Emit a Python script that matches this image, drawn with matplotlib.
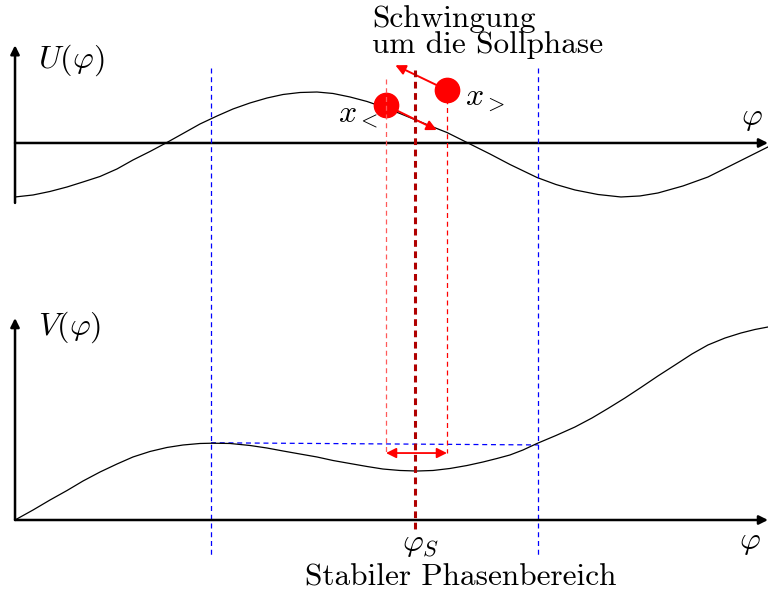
import matplotlib
matplotlib.use("Agg")
import matplotlib.pyplot as plt

plt.rcParams["font.family"] = "serif"
plt.rcParams["font.serif"] = ["cmr10", "DejaVu Serif"]
plt.rcParams["mathtext.fontset"] = "cm"
plt.rcParams["axes.unicode_minus"] = False

# --- curve samples (phase in rad, values in arbitrary units) ---
PHI_U = [0.000, 0.187, 0.363, 0.540, 0.706, 0.883, 1.059, 1.225, 1.402, 1.568,
         1.745, 1.921, 2.098, 2.264, 2.440, 2.617, 2.783, 2.960, 3.136, 3.302,
         3.479, 3.655, 3.821, 3.998, 4.174, 4.341, 4.486, 4.704, 4.933, 5.140,
         5.421, 5.618, 5.815, 6.054, 6.293, 6.490, 6.677, 6.937, 7.196, 7.425,
         7.632, 7.819]
U_VALS = [-1.000, -0.963, -0.898, -0.815, -0.722, -0.620, -0.481, -0.315, -0.157, 0.000,
          0.176, 0.352, 0.500, 0.630, 0.741, 0.833, 0.898, 0.935, 0.944, 0.917,
          0.852, 0.769, 0.667, 0.546, 0.417, 0.296, 0.194, 0.000, -0.204, -0.398,
          -0.639, -0.769, -0.870, -0.954, -1.000, -0.981, -0.926, -0.796, -0.630, -0.426,
          -0.241, -0.074]

PHI_V = [0.000, 0.187, 0.363, 0.540, 0.706, 0.883, 1.059, 1.225, 1.402, 1.578,
         1.745, 1.921, 2.046, 2.233, 2.440, 2.617, 2.783, 2.960, 3.136, 3.302,
         3.479, 3.655, 3.821, 3.998, 4.174, 4.341, 4.517, 4.694, 4.860, 5.005,
         5.140, 5.275, 5.421, 5.618, 5.815, 5.992, 6.158, 6.334, 6.500, 6.677,
         6.854, 7.030, 7.196, 7.373, 7.539, 7.684, 7.819]
V_VALS = [0.000, 0.185, 0.370, 0.546, 0.722, 0.889, 1.037, 1.167, 1.269, 1.343,
          1.389, 1.417, 1.422, 1.417, 1.380, 1.333, 1.278, 1.222, 1.167, 1.102,
          1.046, 0.991, 0.944, 0.917, 0.907, 0.917, 0.954, 1.009, 1.074, 1.139,
          1.204, 1.296, 1.417, 1.565, 1.722, 1.889, 2.065, 2.259, 2.454, 2.667,
          2.870, 3.074, 3.241, 3.370, 3.463, 3.528, 3.574]

PHI_S = 4.154                 # Sollphase
PHI_STABLE = [2.035, 5.431]   # Grenzen des stabilen Bereichs
V_STABLE = [1.43, 1.39]
PHI_X_LO, PHI_X_HI = 3.853, 4.486   # Schwingungsumkehrpunkte x_<, x_>
U_DOT_LO, U_DOT_HI = 0.70, 0.98

BLUE = "#0000ff"
RED = "#ff0000"
LIGHT_RED = "#ff5a5a"
DARK_RED = "#b00000"

XLIM = (-0.156, 7.82)

fig = plt.figure(figsize=(7.68, 5.93), dpi=100)
ax_u = fig.add_axes([0, 0.5, 1, 0.5])
ax_v = fig.add_axes([0, 0.0, 1, 0.5])
ax_u.set_xlim(*XLIM)
ax_u.set_ylim(-2.843, 2.648)
ax_v.set_xlim(*XLIM)
ax_v.set_ylim(-1.352, 4.139)
for ax in (ax_u, ax_v):
    ax.set_axis_off()

axis_arrow = dict(arrowstyle="-|>", color="black", lw=1.8,
                  mutation_scale=13, shrinkA=0, shrinkB=0)

# ---- top: U(phi) ----
ax_u.annotate("", xy=(XLIM[1], 0), xytext=(0, 0), arrowprops=axis_arrow,
              annotation_clip=False)
ax_u.annotate("", xy=(0, 1.81), xytext=(0, -1.11), arrowprops=axis_arrow,
              annotation_clip=False)
ax_u.plot(PHI_U, U_VALS, color="black", lw=0.9, solid_joinstyle="round", zorder=3)
ax_u.text(0.24, 1.54, r"$U(\varphi)$", fontsize=23, ha="left", va="center")
ax_u.text(7.65, 0.43, r"$\varphi$", fontsize=23, ha="center", va="center")

# ---- bottom: V(phi) ----
ax_v.annotate("", xy=(XLIM[1], 0), xytext=(0, 0), arrowprops=axis_arrow,
              annotation_clip=False)
ax_v.annotate("", xy=(0, 3.74), xytext=(0, 0), arrowprops=axis_arrow,
              annotation_clip=False)
ax_v.plot(PHI_V, V_VALS, color="black", lw=0.9, solid_joinstyle="round", zorder=3)
ax_v.text(0.24, 3.57, r"$V(\varphi)$", fontsize=23, ha="left", va="center")
ax_v.text(7.63, -0.43, r"$\varphi$", fontsize=23, ha="center", va="center")

# vertical guide lines run across both panels (drawn in V coordinates, unclipped)
for p in PHI_STABLE:
    ax_v.plot([p, p], [8.37, -0.648], color=BLUE, lw=0.9, dashes=(4, 3),
              clip_on=False, zorder=2)
ax_v.plot(PHI_STABLE, V_STABLE, color=BLUE, lw=0.9, dashes=(4, 3), zorder=2)

ax_v.plot([PHI_X_LO, PHI_X_LO], [8.17, 1.24], color=LIGHT_RED, lw=0.9,
          dashes=(4, 3), clip_on=False, zorder=2)
ax_v.plot([PHI_X_HI, PHI_X_HI], [7.96, 1.24], color=RED, lw=0.9,
          dashes=(4, 3), clip_on=False, zorder=2)
ax_v.plot([PHI_S, PHI_S], [8.33, -0.185], color=DARK_RED, lw=2.2,
          dashes=(2.2, 1.5), clip_on=False, zorder=4)

ax_v.annotate("", xy=(PHI_X_HI, 1.24), xytext=(PHI_X_LO, 1.24),
              arrowprops=dict(arrowstyle="<|-|>", color=RED, lw=1.3,
                              mutation_scale=15, shrinkA=0, shrinkB=0))

# oscillating particles
ax_u.plot([PHI_X_LO], [U_DOT_LO], "o", ms=17.5, color=RED, zorder=6)
ax_u.plot([PHI_X_HI], [U_DOT_HI], "o", ms=17.5, color=RED, zorder=6)
ax_u.annotate("", xy=(4.38, 0.24), xytext=(PHI_X_LO, U_DOT_LO),
              arrowprops=dict(arrowstyle="-|>", color=RED, lw=1.4,
                              mutation_scale=15, shrinkA=0, shrinkB=0), zorder=5)
ax_u.annotate("", xy=(3.95, 1.44), xytext=(PHI_X_HI, U_DOT_HI),
              arrowprops=dict(arrowstyle="-|>", color=RED, lw=1.4,
                              mutation_scale=15, shrinkA=0, shrinkB=0), zorder=5)
ax_u.text(3.56, 0.50, r"$x_<$", fontsize=23, ha="center", va="center")
ax_u.text(4.88, 0.80, r"$x_>$", fontsize=23, ha="center", va="center")

ax_u.text(3.71, 2.56, "Schwingung\num die Sollphase", fontsize=22.5,
          ha="left", va="top", linespacing=0.92)
ax_v.text(4.21, -0.46, r"$\varphi_S$", fontsize=23, ha="center", va="center")
ax_v.text(4.63, -1.06, "Stabiler Phasenbereich", fontsize=22.5,
          ha="center", va="center")

fig.savefig("out.png", dpi=100)
